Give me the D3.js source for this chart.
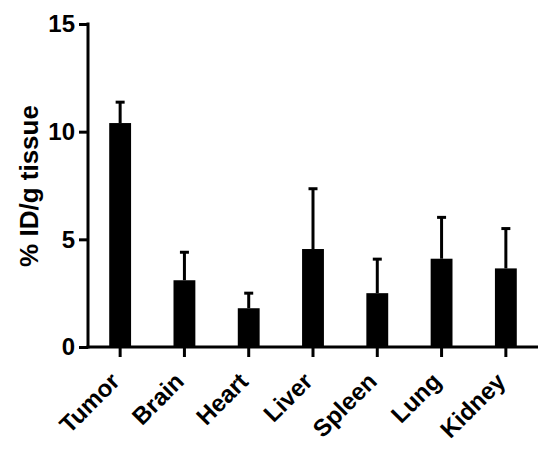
<!DOCTYPE html>
<html>
<head>
<meta charset="utf-8">
<script src="https://cdn.jsdelivr.net/npm/d3@7"></script>
<style>
  html, body { margin: 0; padding: 0; background: #fff; }
  svg { display: block; }
  text { font-family: "Liberation Sans", Arial, sans-serif; font-weight: bold; fill: #000; }
</style>
</head>
<body>
<svg id="chart" width="550" height="452"></svg>
<script>
const categories = ["Tumor", "Brain", "Heart", "Liver", "Spleen", "Lung", "Kidney"];
const values = [10.4, 3.1, 1.8, 4.55, 2.5, 4.1, 3.65];
const errors = [0.97, 1.3, 0.7, 2.8, 1.58, 1.92, 1.85];
const yTicks = [0, 5, 10, 15];
const yLabel = "% ID/g tissue";

const svg = d3.select("#chart");
const mLeft = 88, mRight = 538, mTop = 24, mBottom = 347;
const FONT = "Liberation Sans, Arial, sans-serif";

const x = d3.scaleBand().domain(categories).range([mLeft, mRight])
  .paddingInner(0.66).paddingOuter(0.33);
const y = d3.scaleLinear().domain([0, 15]).range([mBottom, mTop]);

// Bars
svg.append("g").selectAll("rect").data(categories).join("rect")
  .attr("x", d => x(d))
  .attr("y", (d, i) => y(values[i]))
  .attr("width", x.bandwidth())
  .attr("height", (d, i) => y(0) - y(values[i]))
  .attr("fill", "#000");

// Error bars (upper only)
const eb = svg.append("g").attr("stroke", "#000").attr("stroke-width", 3);
categories.forEach((c, i) => {
  const cx = x(c) + x.bandwidth() / 2;
  eb.append("line").attr("x1", cx).attr("x2", cx)
    .attr("y1", y(values[i])).attr("y2", y(values[i] + errors[i]));
  eb.append("line").attr("x1", cx - 4.5).attr("x2", cx + 4.5)
    .attr("y1", y(values[i] + errors[i])).attr("y2", y(values[i] + errors[i]));
});

// Y axis
const yAxis = svg.append("g").attr("transform", `translate(${mLeft},0)`)
  .call(d3.axisLeft(y).tickValues(yTicks).tickSize(9).tickPadding(4).tickSizeOuter(0));
yAxis.select(".domain").attr("stroke-width", 3).attr("d", `M0,${mTop - 1.5}V${mBottom + 1.5}`);
yAxis.selectAll(".tick line").attr("stroke-width", 3);
yAxis.selectAll(".tick text").attr("font-size", 24).attr("font-family", FONT).attr("font-weight", "bold");

// X axis
const xAxis = svg.append("g").attr("transform", `translate(0,${mBottom})`)
  .call(d3.axisBottom(x).tickSize(10).tickSizeOuter(0));
xAxis.select(".domain").attr("stroke-width", 3).attr("d", `M${mLeft - 1.5},0H${mRight}`);
xAxis.selectAll(".tick line").attr("stroke-width", 3);
xAxis.selectAll(".tick text")
  .attr("font-size", 24).attr("font-family", FONT).attr("font-weight", "bold")
  .attr("text-anchor", "end")
  .attr("dy", "0")
  .attr("transform", "translate(1,36) rotate(-45)")
  .attr("y", 0).attr("x", 0);

// Y label
svg.append("text")
  .attr("transform", `translate(38,186) rotate(-90)`)
  .attr("text-anchor", "middle")
  .attr("font-size", 26)
  .text(yLabel);
</script>
</body>
</html>
